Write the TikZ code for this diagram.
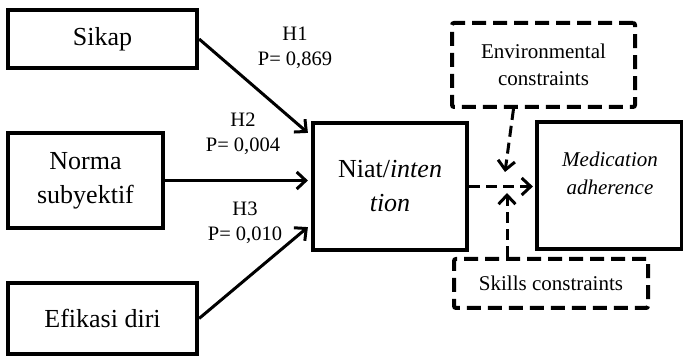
\documentclass[tikz,border=0pt]{standalone}
\usepackage{fontspec}
\setmainfont{Liberation Serif}
\usetikzlibrary{arrows.meta,calc}
\begin{document}
\begin{tikzpicture}[x=1pt,y=1pt,
  bigbox/.style={draw,line width=4.2pt,inner sep=0pt,align=center,font=\fontsize{26}{34}\selectfont},
  dbox/.style={draw,line width=4pt,dash pattern=on 14pt off 7pt,rounded corners=2pt,inner sep=0pt,align=center,font=\fontsize{21}{27}\selectfont},
  lbl/.style={inner sep=0pt,align=center,font=\fontsize{20.5}{25}\selectfont},
  arr/.style={line width=3pt,-{Straight Barb[length=9pt,width=17pt,line width=3pt]}},
  darr/.style={line width=3pt,dash pattern=on 11pt off 6pt,-{Straight Barb[length=9pt,width=17pt,line width=3pt]}}]
\useasboundingbox (0,0) rectangle (683,356);
\node[bigbox,minimum width=189pt,minimum height=58pt] (sikap) at (102.5,317) {Sikap};
\node[bigbox,minimum width=155pt,minimum height=95pt] (norma) at (85.5,175.5) {Norma\\subyektif};
\node[bigbox,minimum width=189pt,minimum height=71pt] (efikasi) at (102.5,37.5) {Efikasi diri};
\node[bigbox,minimum width=154pt,minimum height=127pt] (niat) at (390,169.5) {Niat/\textit{inten}\\\textit{tion}};
\node[bigbox,minimum width=145pt,minimum height=127pt] (med) at (609.5,170.5) {};
\node[lbl,font=\fontsize{21}{28}\selectfont] (medtext) at (610,183) {\textit{Medication}\\\textit{adherence}};
\node[dbox,minimum width=183pt,minimum height=84pt] (env) at (543.5,291) {Environmental\\constraints};
\node[dbox,minimum width=194pt,minimum height=49pt] (skills) at (551,72.5) {Skills constraints};
\node[lbl] (h1) at (295,308.5) {H1\\P= 0,869};
\node[lbl] (h2) at (243,222) {H2\\P= 0,004};
\node[lbl] (h3) at (245,133.5) {H3\\P= 0,010};
\coordinate (envtip) at (505,184);
\coordinate (skilltip) at (507,163);
\draw[arr] (sikap.east) -- ([xshift=-3pt,yshift=-12pt]niat.north west);
\draw[arr] (norma.east) -- ([xshift=-3pt]norma.east -| niat.west);
\draw[arr] (efikasi.east) -- ([xshift=-3pt,yshift=25pt]niat.south west);
\draw[darr] (niat.east) -- ([xshift=-2pt]niat.east -| med.west);
\draw[darr] ([xshift=-30pt]env.south) -- (envtip);
\draw[darr] (skills.north -| skilltip) -- (skilltip);
\end{tikzpicture}
\end{document}
